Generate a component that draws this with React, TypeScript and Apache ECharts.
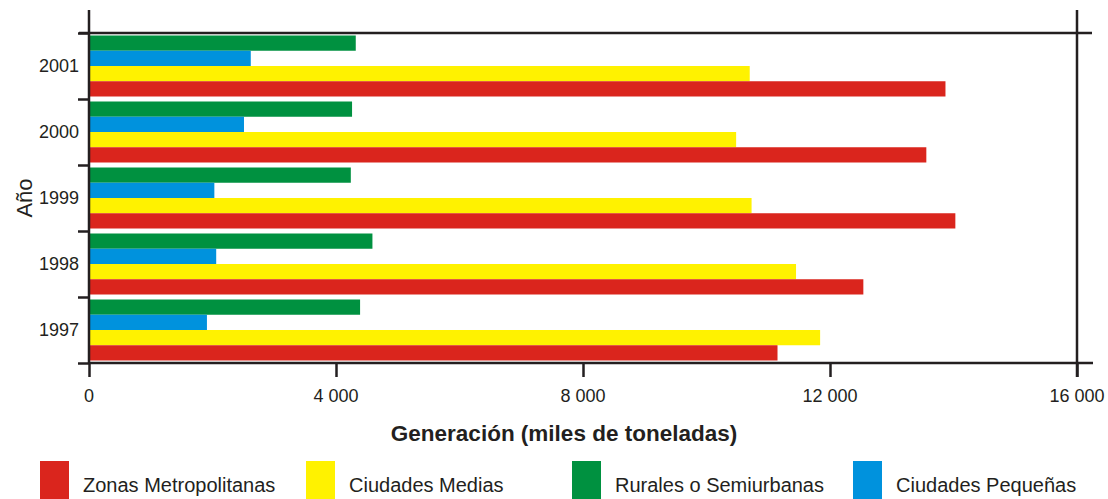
import React, { useEffect, useRef } from "react";
import * as echarts from "echarts";

const years = ["1997", "1998", "1999", "2000", "2001"];
const metropolitanas = [11150, 12540, 14030, 13560, 13870];
const medias = [11840, 11450, 10730, 10480, 10700];
const pequenas = [1910, 2060, 2030, 2510, 2620];
const rurales = [4390, 4590, 4240, 4260, 4320];
const xTicks = { min: 0, max: 16000, interval: 4000 };

const INK = "#231f20";
const SANS = '"Liberation Sans", Arial, sans-serif';

// ECharts places the first series at the top of each horizontal band
const seriesDefs = [
  { name: "Rurales o Semiurbanas", color: "#009140", data: rurales },
  { name: "Ciudades Pequeñas", color: "#0092dd", data: pequenas },
  { name: "Ciudades Medias", color: "#fff200", data: medias },
  { name: "Zonas Metropolitanas", color: "#da251d", data: metropolitanas },
];

const legendItems = [
  { name: "Zonas Metropolitanas", left: 40 },
  { name: "Ciudades Medias", left: 306 },
  { name: "Rurales o Semiurbanas", left: 572 },
  { name: "Ciudades Pequeñas", left: 853 },
];

export default function App() {
  const ref = useRef<HTMLDivElement>(null);
  useEffect(() => {
    if (!ref.current) return;
    const chart = echarts.init(ref.current, undefined, { renderer: "svg" });
    const fmt = (v: number) => String(v).replace(/\B(?=(\d{3})+(?!\d))/g, " ");
    chart.setOption({
      animation: false,
      backgroundColor: "#ffffff",
      grid: { left: 89, right: 31, top: 33, bottom: 136 },
      legend: legendItems.map((l) => ({
        data: [l.name],
        left: l.left,
        top: 461,
        padding: 0,
        itemWidth: 29,
        itemHeight: 48,
        icon: "rect",
        selectedMode: false,
        textStyle: { fontFamily: SANS, fontSize: 20, color: INK, padding: [0, 0, 0, 9] },
      })),
      xAxis: {
        type: "value",
        min: xTicks.min,
        max: xTicks.max,
        interval: xTicks.interval,
        axisLine: { show: false },
        axisTick: { show: true, length: 14, lineStyle: { color: INK, width: 2.5 } },
        splitLine: { show: false },
        axisLabel: {
          formatter: fmt,
          fontFamily: SANS,
          fontSize: 18,
          color: INK,
          margin: 24,
        },
      },
      yAxis: {
        type: "category",
        data: years,
        axisLine: { show: false },
        axisTick: { show: true, length: 11, lineStyle: { color: INK, width: 2.5 } },
        axisLabel: { fontFamily: SANS, fontSize: 18, color: INK, margin: 10, padding: [0, 0, 6, 0] },
      },
      series: seriesDefs.map((s) => ({
        type: "bar",
        name: s.name,
        data: s.data,
        barGap: "0%",
        barCategoryGap: "7.5%",
        itemStyle: { color: s.color },
      })),
      graphic: [
        { type: "line", shape: { x1: 89, y1: 10, x2: 89, y2: 363 }, style: { stroke: INK, lineWidth: 2.5 }, z: 100 },
        { type: "line", shape: { x1: 79, y1: 33, x2: 1092, y2: 33 }, style: { stroke: INK, lineWidth: 2.5 }, z: 100 },
        { type: "line", shape: { x1: 89, y1: 363, x2: 1093, y2: 363 }, style: { stroke: INK, lineWidth: 2.5 }, z: 100 },
        { type: "line", shape: { x1: 1077, y1: 10, x2: 1077, y2: 377 }, style: { stroke: INK, lineWidth: 2.5 }, z: 100 },
        {
          type: "text",
          x: 564,
          y: 433,
          style: {
            text: "Generación (miles de toneladas)",
            fontFamily: SANS,
            fontWeight: "bold",
            fontSize: 22.5,
            fill: INK,
            align: "center",
            verticalAlign: "middle",
          },
        },
        {
          type: "text",
          x: 24,
          y: 198,
          rotation: Math.PI / 2,
          style: {
            text: "Año",
            fontFamily: SANS,
            fontSize: 22,
            fill: INK,
            align: "center",
            verticalAlign: "middle",
          },
        },
      ],
    });
    return () => chart.dispose();
  }, []);
  return <div ref={ref} style={{ width: 1108, height: 499, position: "absolute", left: 0, top: 0 }} />;
}
